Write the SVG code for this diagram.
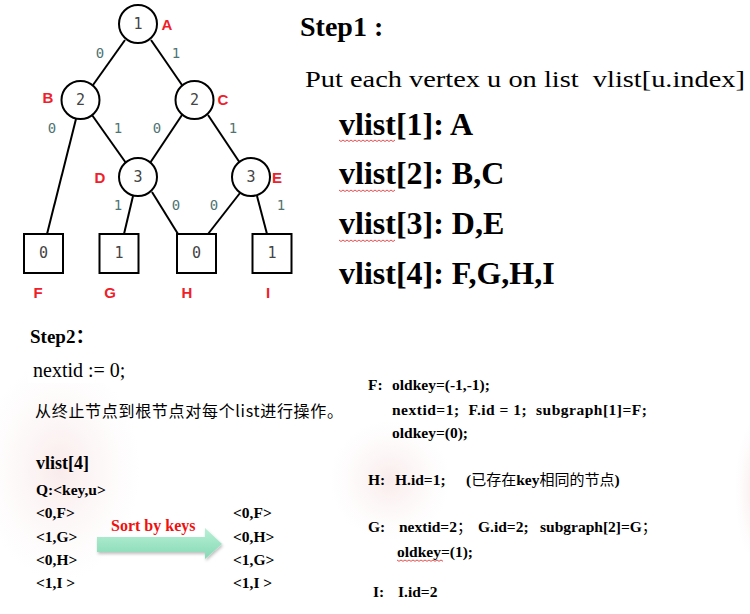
<svg xmlns="http://www.w3.org/2000/svg" width="750" height="614" viewBox="0 0 750 614">
<style>
text{white-space:pre}
.nd{fill:#fff;stroke:#000;stroke-width:2}
.num{font-family:"DejaVu Sans Mono",monospace;font-size:15px;fill:#444;text-anchor:middle}
.el{font-family:"DejaVu Sans Mono",monospace;font-size:14px;fill:#4f7373;text-anchor:middle}
.lbl{font-family:"Liberation Sans",Arial,sans-serif;font-size:15px;font-weight:bold;fill:#f0202a;text-anchor:middle}
.edge{stroke:#000;stroke-width:2;fill:none}
.sb{font-family:"Liberation Serif","Times New Roman",serif;font-weight:bold;fill:#000}
.sr{font-family:"Liberation Serif","Times New Roman",serif;fill:#000}
.sq{fill:none;stroke:#e02020;stroke-width:0.8}
.cj{font-family:"Noto Sans CJK SC",sans-serif;font-weight:normal;font-size:15px}
</style>
<defs>
<linearGradient id="ag" x1="0" y1="0" x2="0" y2="1">
<stop offset="0" stop-color="#b8f0d6"/>
<stop offset="1" stop-color="#86d9b4"/>
</linearGradient>
<radialGradient id="pink" cx="0.5" cy="0.5" r="0.5">
<stop offset="0" stop-color="#f6dede" stop-opacity="0.6"/>
<stop offset="1" stop-color="#fbeeee" stop-opacity="0"/>
</radialGradient>
<filter id="sh" x="-10%" y="-20%" width="130%" height="160%">
<feDropShadow dx="1" dy="2" stdDeviation="1.5" flood-color="#000" flood-opacity="0.25"/>
</filter>
</defs>
<rect width="750" height="614" fill="#fff"/>
<ellipse cx="60" cy="470" rx="80" ry="110" fill="url(#pink)"/>
<ellipse cx="390" cy="480" rx="60" ry="60" fill="url(#pink)"/>
<ellipse cx="755" cy="490" rx="20" ry="70" fill="url(#pink)"/>
<rect x="28" y="355" width="105" height="28" fill="#fff"/>

<g id="connectors">
<line class="edge" x1="125" y1="40" x2="93" y2="85"/>
<line class="edge" x1="151" y1="40" x2="182" y2="85"/>
<line class="edge" x1="76" y1="119" x2="47" y2="234"/>
<line class="edge" x1="92" y1="115" x2="126" y2="163"/>
<line class="edge" x1="182" y1="115" x2="150" y2="163"/>
<line class="edge" x1="208" y1="115" x2="240" y2="163"/>
<line class="edge" x1="133" y1="196" x2="124" y2="234"/>
<line class="edge" x1="152" y1="192" x2="178" y2="234"/>
<line class="edge" x1="240" y1="193" x2="208" y2="234"/>
<line class="edge" x1="257" y1="196" x2="267" y2="234"/>
<text class="el" x="100" y="58">0</text>
<text class="el" x="176" y="58">1</text>
<text class="el" x="52" y="133">0</text>
<text class="el" x="118" y="133">1</text>
<text class="el" x="157" y="133">0</text>
<text class="el" x="233" y="133">1</text>
<text class="el" x="118" y="210">1</text>
<text class="el" x="176" y="210">0</text>
<text class="el" x="214" y="210">0</text>
<text class="el" x="281" y="210">1</text>
</g>

<g id="A"><circle class="nd" cx="138" cy="24" r="19"/><text class="num" x="138" y="29">1</text><text class="lbl" x="167" y="30">A</text></g>
<g id="B"><circle class="nd" cx="80.5" cy="100" r="19"/><text class="num" x="80.5" y="105">2</text><text class="lbl" x="48" y="103">B</text></g>
<g id="C"><circle class="nd" cx="194.5" cy="100" r="19"/><text class="num" x="194.5" y="105">2</text><text class="lbl" x="223" y="105">C</text></g>
<g id="D"><circle class="nd" cx="138" cy="177" r="19"/><text class="num" x="138" y="182">3</text><text class="lbl" x="100" y="183">D</text></g>
<g id="E"><circle class="nd" cx="251" cy="177" r="19"/><text class="num" x="251" y="182">3</text><text class="lbl" x="277" y="183">E</text></g>
<g id="F"><rect class="nd" x="24" y="234" width="39" height="39"/><text class="num" x="43.5" y="258">0</text><text class="lbl" x="38" y="298">F</text></g>
<g id="G"><rect class="nd" x="99.5" y="234" width="39" height="39"/><text class="num" x="119" y="258">1</text><text class="lbl" x="110" y="298">G</text></g>
<g id="H"><rect class="nd" x="177" y="234" width="39" height="39"/><text class="num" x="196.5" y="258">0</text><text class="lbl" x="187" y="298">H</text></g>
<g id="I"><rect class="nd" x="252.5" y="234" width="39" height="39"/><text class="num" x="272" y="258">1</text><text class="lbl" x="268" y="298">I</text></g>

<g id="step1">
<text class="sb" x="300" y="36" font-size="28">Step1 :</text>
<text class="sr" x="305" y="87" font-size="24" textLength="440" lengthAdjust="spacingAndGlyphs">Put each vertex u on list  vlist[u.index]</text>
<text class="sb" x="339" y="135" font-size="32">vlist[1]: A</text>
<text class="sb" x="339" y="184" font-size="32">vlist[2]: B,C</text>
<text class="sb" x="339" y="234" font-size="32">vlist[3]: D,E</text>
<text class="sb" x="339" y="284" font-size="32">vlist[4]: F,G,H,I</text>
<path class="sq" d="M339 140 l2 1.5 l2 -1.5 l2 1.5 l2 -1.5 l2 1.5 l2 -1.5 l2 1.5 l2 -1.5 l2 1.5 l2 -1.5 l2 1.5 l2 -1.5 l2 1.5 l2 -1.5 l2 1.5 l2 -1.5 l2 1.5 l2 -1.5 l2 1.5 l2 -1.5 l2 1.5 l2 -1.5 l2 1.5 l2 -1.5 l2 1.5 l2 -1.5 l2 1.5 l2 -1.5"/>
<path class="sq" d="M339 190 l2 1.5 l2 -1.5 l2 1.5 l2 -1.5 l2 1.5 l2 -1.5 l2 1.5 l2 -1.5 l2 1.5 l2 -1.5 l2 1.5 l2 -1.5 l2 1.5 l2 -1.5 l2 1.5 l2 -1.5 l2 1.5 l2 -1.5 l2 1.5 l2 -1.5 l2 1.5 l2 -1.5 l2 1.5 l2 -1.5 l2 1.5 l2 -1.5 l2 1.5 l2 -1.5"/>
<path class="sq" d="M339 240 l2 1.5 l2 -1.5 l2 1.5 l2 -1.5 l2 1.5 l2 -1.5 l2 1.5 l2 -1.5 l2 1.5 l2 -1.5 l2 1.5 l2 -1.5 l2 1.5 l2 -1.5 l2 1.5 l2 -1.5 l2 1.5 l2 -1.5 l2 1.5 l2 -1.5 l2 1.5 l2 -1.5 l2 1.5 l2 -1.5 l2 1.5 l2 -1.5 l2 1.5 l2 -1.5"/>
</g>

<g id="step2">
<text class="sb" x="30" y="343" font-size="19">Step2<tspan font-family="Noto Sans CJK SC" font-weight="bold">：</tspan></text>
<text class="sr" x="33" y="377" font-size="20">nextid := 0;</text>
<text x="35" y="417" font-size="16" font-family="'Noto Sans CJK SC',sans-serif" fill="#000" textLength="308">从终止节点到根节点对每个list进行操作。</text>
<text class="sb" x="36" y="469" font-size="18">vlist[4]</text>
<text class="sb" x="36" y="495" font-size="15.5">Q:&lt;key,u&gt;</text>
<text class="sb" x="36" y="518" font-size="15.5">&lt;0,F&gt;</text>
<text class="sb" x="36" y="542" font-size="15.5">&lt;1,G&gt;</text>
<text class="sb" x="36" y="565" font-size="15.5">&lt;0,H&gt;</text>
<text class="sb" x="36" y="588" font-size="15.5">&lt;1,I &gt;</text>
<text class="sb" x="233" y="518" font-size="15.5">&lt;0,F&gt;</text>
<text class="sb" x="233" y="542" font-size="15.5">&lt;0,H&gt;</text>
<text class="sb" x="233" y="565" font-size="15.5">&lt;1,G&gt;</text>
<text class="sb" x="233" y="588" font-size="15.5">&lt;1,I &gt;</text>
<text class="sb" x="111" y="531" font-size="16" style="fill:#f01010">Sort by keys</text>
<path d="M97 537 H205 V528 L222 544 L205 559 V552 H97 Z" fill="url(#ag)" filter="url(#sh)"/>
</g>

<g id="steps">
<text class="sb" x="368" y="390" font-size="15.5">F:</text>
<text class="sb" x="392" y="390" font-size="15.5">oldkey=(-1,-1);</text>
<text class="sb" x="392" y="415" font-size="15.5" textLength="255">nextid=1;  F.id = 1;  subgraph[1]=F;</text>
<text class="sb" x="392" y="438" font-size="15.5">oldkey=(0);</text>
<text class="sb" x="368" y="485" font-size="15.5">H:</text>
<text class="sb" x="395" y="485" font-size="15.5">H.id=1;</text>
<text class="sb" x="466" y="485" font-size="15.5">(<tspan class="cj">已存在</tspan>key<tspan class="cj">相同的节点</tspan>)</text>
<text class="sb" x="368" y="532" font-size="15.5">G:</text>
<text class="sb" x="399" y="532" font-size="15.5">nextid=2<tspan class="cj">；</tspan></text>
<text class="sb" x="478" y="532" font-size="15.5">G.id=2;</text>
<text class="sb" x="540" y="532" font-size="15.5">subgraph[2]=G<tspan class="cj">；</tspan></text>
<text class="sb" x="397" y="557" font-size="15.5">oldkey=(1);</text>
<path class="sq" d="M397 560 l2 1.3 l2 -1.3 l2 1.3 l2 -1.3 l2 1.3 l2 -1.3 l2 1.3 l2 -1.3 l2 1.3 l2 -1.3 l2 1.3 l2 -1.3 l2 1.3 l2 -1.3 l2 1.3 l2 -1.3 l2 1.3 l2 -1.3 l2 1.3 l2 -1.3 l2 1.3 l2 -1.3 l2 1.3"/>
<text class="sb" x="373" y="597" font-size="15.5">I:</text>
<text class="sb" x="398" y="597" font-size="15.5">I.id=2</text>
</g>
</svg>
